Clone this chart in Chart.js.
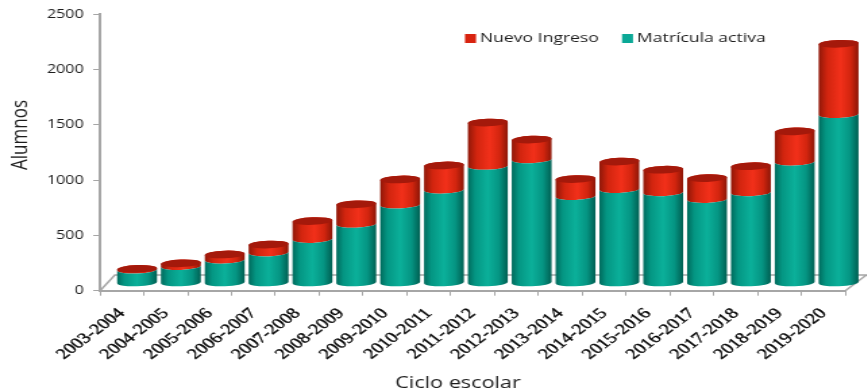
<!DOCTYPE html>
<html>
<head>
<meta charset="utf-8">
<title>Alumnos por ciclo escolar</title>
<script src="https://cdn.jsdelivr.net/npm/chart.js@4"></script>
<style>
  html, body { margin: 0; padding: 0; background: #fff; overflow: hidden; }
  /* the chart is laid out narrow and widened, which gives the wide lettering */
  #wrap { width: 642px; height: 392px; transform: scaleX(1.35); transform-origin: 0 0; }
  canvas { display: block; }
</style>
</head>
<body>
<div id="wrap"><canvas id="enrolChart" width="642" height="392"></canvas></div>
<script>
const cycles = ["2003-2004", "2004-2005", "2005-2006", "2006-2007", "2007-2008", "2008-2009",
  "2009-2010", "2010-2011", "2011-2012", "2012-2013", "2013-2014", "2014-2015", "2015-2016",
  "2016-2017", "2017-2018", "2018-2019", "2019-2020"];
const activeEnrolment = [120, 152, 210, 275, 397, 534, 708, 843, 1058, 1117, 785, 848, 819, 758, 819, 1096, 1526];
const newEntrants = [8, 26, 48, 73, 163, 178, 228, 220, 393, 180, 155, 250, 205, 190, 237, 275, 637];
const yTicks = [0, 500, 1000, 1500, 2000, 2500];

const STRETCH = 1.35;
const DEPTH_X = 11.2;
const DEPTH_Y = 7.7;
const CAP_RY = 3.8;
const TILT = -0.05;
const TEXT = "#1c1c1c";
const AXIS = "#a6a6a6";

function bodyGradient(ctx, cx, rx, stops) {
  const g = ctx.createLinearGradient(cx - rx, 0, cx + rx, 0);
  stops.forEach(([at, color]) => g.addColorStop(at, color));
  return g;
}

const tealStops = [[0, "#006a5c"], [0.18, "#049683"], [0.5, "#0bb09a"], [0.78, "#059583"], [1, "#005f52"]];
const redStops = [[0, "#8f1708"], [0.22, "#d2250f"], [0.55, "#f2301a"], [0.8, "#d2250f"], [1, "#8c1607"]];

// cylinders are drawn from the bar elements, moved back onto the floor
function drawCylinder(ctx, bar, stops, hasCap) {
  const cx = bar.x + DEPTH_X;
  const rx = bar.width / 2;
  const top = bar.y - DEPTH_Y;
  const bottom = bar.base - DEPTH_Y;

  ctx.beginPath();
  ctx.ellipse(cx, bottom, rx, CAP_RY, TILT, 0, Math.PI, false);
  ctx.ellipse(cx, top, rx, CAP_RY, TILT, Math.PI, 0, hasCap ? false : true);
  ctx.closePath();
  ctx.fillStyle = bodyGradient(ctx, cx, rx, stops);
  ctx.fill();

  if (hasCap) {
    ctx.beginPath();
    ctx.ellipse(cx, top, rx, CAP_RY, TILT, 0, Math.PI * 2);
    ctx.fillStyle = "#a4190b";
    ctx.fill();
  }
}

const cylinderPlugin = {
  id: "cylinders",
  beforeDatasetsDraw(chart) {
    const ctx = chart.ctx;
    const area = chart.chartArea;
    // floor of the plot
    ctx.save();
    ctx.strokeStyle = AXIS;
    ctx.lineWidth = 1.5;
    ctx.beginPath();
    ctx.moveTo(area.left, area.bottom);
    ctx.lineTo(area.left + 11, 275);
    ctx.lineTo(642, 275);
    ctx.moveTo(area.right, area.bottom);
    ctx.lineTo(area.right + 15.6, 275);
    ctx.stroke();
    ctx.restore();
  },
  beforeDatasetDraw(chart, args) {
    const ctx = chart.ctx;
    const isNew = args.index === 1;
    ctx.save();
    args.meta.data.forEach((bar) => drawCylinder(ctx, bar, isNew ? redStops : tealStops, isNew));
    ctx.restore();
    return false;
  },
  afterDraw(chart) {
    const ctx = chart.ctx;
    ctx.save();
    ctx.fillStyle = TEXT;
    ctx.textBaseline = "middle";

    // legend, in reading order
    ctx.font = "13px 'Open Sans'";
    const entries = [
      { ds: chart.data.datasets[1], box: 465, text: 480 },
      { ds: chart.data.datasets[0], box: 622, text: 637 }
    ];
    entries.forEach((entry) => {
      ctx.fillStyle = entry.ds.backgroundColor;
      ctx.fillRect(entry.box / STRETCH, 34, 11 / STRETCH, 9);
      ctx.fillStyle = TEXT;
      ctx.fillText(entry.ds.label, entry.text / STRETCH, 38.5);
    });

    // axis titles sit off-centre, so they are placed here
    ctx.textAlign = "center";
    ctx.font = "16px 'Open Sans'";
    ctx.fillText("Ciclo escolar", 458 / STRETCH, 383);
    ctx.translate(21 / STRETCH, 135);
    ctx.rotate(-Math.PI / 2);
    ctx.font = "17px 'Open Sans'";
    ctx.fillText("Alumnos", 0, 0);
    ctx.restore();
  }
};

new Chart(document.getElementById("enrolChart"), {
  type: "bar",
  data: {
    labels: cycles,
    datasets: [
      { label: "Matrícula activa", data: activeEnrolment, backgroundColor: "#0aa896" },
      { label: "Nuevo Ingreso", data: newEntrants, backgroundColor: "#d8230f" }
    ]
  },
  plugins: [cylinderPlugin],
  options: {
    responsive: false,
    animation: false,
    layout: { padding: { top: 11.7, right: 15.8, left: 0, bottom: 0 } },
    plugins: {
      legend: { display: false },
      tooltip: { enabled: false }
    },
    datasets: { bar: { barPercentage: 1, categoryPercentage: 0.91 } },
    scales: {
      x: {
        stacked: true,
        afterFit(scale) { scale.height = 101.3; },
        border: { color: AXIS, width: 2 },
        grid: { drawOnChartArea: false, color: AXIS, tickLength: 5 },
        ticks: {
          color: "#000",
          font: { family: "'Liberation Serif'", size: 15 },
          textStrokeColor: "#000",
          textStrokeWidth: 0.35,
          maxRotation: 45,
          minRotation: 45,
          autoSkip: false,
          padding: 9
        }
      },
      y: {
        stacked: true,
        min: 0,
        max: 2500,
        afterFit(scale) { scale.width = 100 / STRETCH; },
        afterBuildTicks(scale) { scale.ticks = yTicks.map((value) => ({ value })); },
        border: { color: AXIS, width: 2 },
        grid: { drawOnChartArea: false, color: AXIS, tickLength: 5 },
        ticks: {
          color: TEXT,
          font: { family: "'Open Sans'", size: 12 },
          padding: 7,
          callback: (value) => String(value)
        }
      }
    }
  }
});
</script>
</body>
</html>
